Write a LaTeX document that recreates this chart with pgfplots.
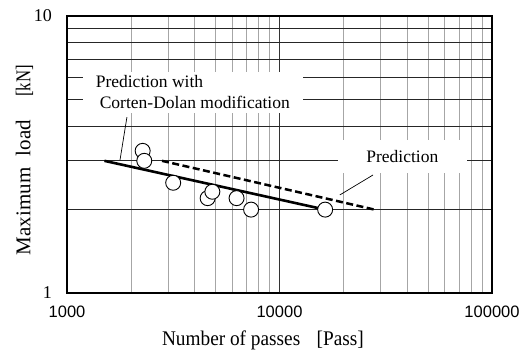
\documentclass[border=0pt]{standalone}
\usepackage{fontspec}
\setmainfont{Liberation Serif}
\newfontfamily\arial{Liberation Sans}
\usepackage{pgfplots}
\pgfplotsset{compat=1.18}
\begin{document}
\begin{tikzpicture}
\begin{axis}[
  xmode=log, ymode=log,
  scale only axis, width=425pt, height=277pt,
  xmin=1000, xmax=100000, ymin=1, ymax=10,
  xtick={1000,10000,100000}, xticklabels={1000,10000,100000},
  ytick={1,10}, yticklabels={1,10},
  minor xtick={2000,3000,4000,5000,6000,7000,8000,9000,20000,30000,40000,50000,60000,70000,80000,90000},
  minor ytick={2,3,4,5,6,7,8,9},
  xmajorgrids, xminorgrids, yminorgrids,
  major x grid style={draw=black!80, line width=0.8pt},
  minor x grid style={draw=black!35, line width=0.9pt},
  minor y grid style={draw=black!85, line width=0.8pt},
  tick style={draw=none},
  axis line style={line width=1.3pt},
  xticklabel style={font=\arial\fontsize{16.5}{18}\selectfont, anchor=center, yshift=-19pt},
  yticklabel style={font=\fontsize{18}{20}\selectfont, anchor=east, inner sep=0pt, xshift=-15pt},
  xlabel={\scalebox{1}[1.08]{\fontsize{19.3}{22}\selectfont Number of passes\hspace{0.85em}[Pass]}},
  ylabel={\fontsize{21}{23}\selectfont Maximum\hspace{0.55em}load\hspace{1.1em}\scalebox{0.8}[1]{[kN]}},
  xlabel style={at={(axis description cs:0.461,-0.17)}, anchor=center},
  ylabel style={at={(axis description cs:-0.1,0.48)}, anchor=center},
]
\coordinate (bl) at (rel axis cs:0,0);
\coordinate (tr) at (rel axis cs:1,1);
% label boxes covering the grid
\node[fill=white, inner sep=0pt, minimum width=220pt, minimum height=41pt] at (rel axis cs:0.296,0.724) {};
\node[align=left, font=\fontsize{17.5}{21}\selectfont, inner sep=0pt] at (rel axis cs:0.296,0.724) {Prediction with\\\hspace*{4pt}Corten-Dolan modification};
\node[fill=white, inner sep=0pt, minimum width=129pt, minimum height=33pt] at (rel axis cs:0.789,0.493) {};
\node[font=\fontsize{17.5}{19}\selectfont, inner sep=0pt] at (rel axis cs:0.789,0.493) {Prediction};
\draw[line width=0.7pt] (rel axis cs:0.141,0.635) -- (rel axis cs:0.1247,0.480);
\draw[line width=0.7pt] (rel axis cs:0.72,0.426) -- (rel axis cs:0.642,0.354);
\addplot[black, line width=2.5pt, dash pattern=on 7pt off 3.5pt] coordinates {(2800,3.0) (28000,2.0)};
\addplot[black, line width=2.6pt] coordinates {(1500,3.0) (16400,2.0)};
\addplot[only marks, mark=*, mark size=7.5pt, mark options={fill=white, draw=black, line width=0.9pt}] coordinates {
(2270,3.26) (2310,3.0) (3160,2.50) (4590,2.20) (4830,2.32) (6280,2.20) (7350,2.0) (16400,2.0)};
\end{axis}
\pgfresetboundingbox
\path ([shift={(-67pt,-70pt)}]bl) rectangle ([shift={(38pt,16pt)}]tr);
\end{tikzpicture}
\end{document}
